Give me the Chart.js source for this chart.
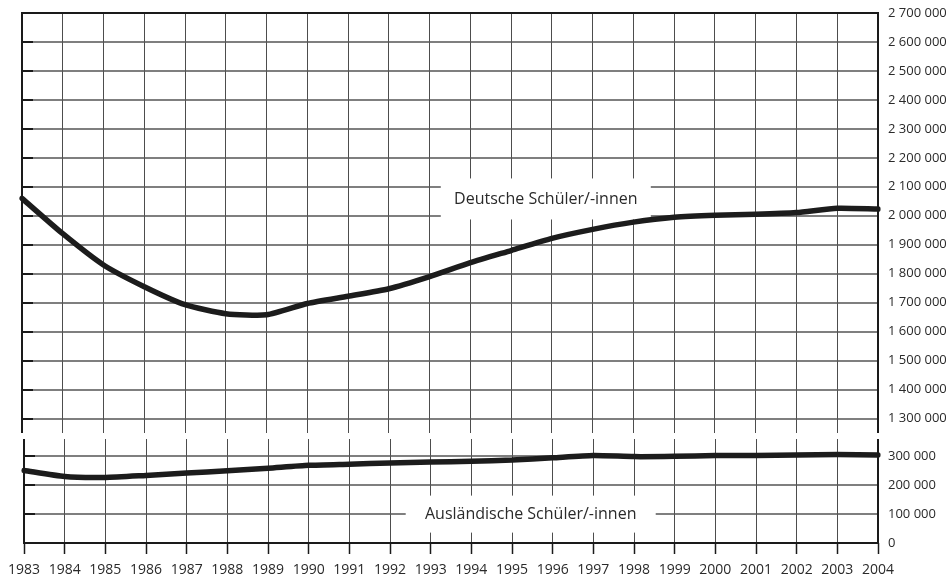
<!DOCTYPE html>
<html>
<head>
<meta charset="utf-8">
<script src="https://cdn.jsdelivr.net/npm/chart.js@4"></script>
<style>
  body { margin: 0; background: #fff; }
  canvas { position: absolute; left: 0; }
  #oben { top: 0; }
  #unten { top: 431px; }
</style>
</head>
<body>
<canvas id="oben" width="952" height="441"></canvas>
<canvas id="unten" width="952" height="156"></canvas>
<script>
// Werte
var years = ['1983', '1984', '1985', '1986', '1987', '1988', '1989', '1990', '1991', '1992', '1993',
             '1994', '1995', '1996', '1997', '1998', '1999', '2000', '2001', '2002', '2003', '2004'];
var deutsche = [2060000, 1938000, 1830000, 1755000, 1693000, 1662000, 1658000, 1697000, 1722000, 1748000, 1790000,
                1838000, 1880000, 1922000, 1953000, 1978000, 1995000, 2002000, 2005000, 2011000, 2026000, 2023000];
var auslaender = [251000, 230000, 227000, 234000, 242000, 250000, 259000, 269000, 273000, 277000, 280000,
                  283000, 287000, 295000, 303000, 299000, 300000, 303000, 303000, 305000, 306000, 305000];
var ticksOben = [1300000, 1400000, 1500000, 1600000, 1700000, 1800000, 1900000, 2000000,
                 2100000, 2200000, 2300000, 2400000, 2500000, 2600000, 2700000];
var ticksUnten = [0, 100000, 200000, 300000];

function fmt(v) {
    return String(v).replace(/\B(?=(\d{3})+(?!\d))/g, ' ');
}

var gridColor = '#4d4d4d';
var textColor = '#2a2a2a';
var schrift = '"Open Sans", "Noto Sans", sans-serif';

// waagrechte Gitterlinien, weisser Kasten mit Beschriftung, Rahmen
var rahmen = {
    id: 'rahmen',
    beforeDatasetsDraw: function (chart, args, opts) {
        var ctx = chart.ctx;
        var a = chart.chartArea;
        var y = chart.scales.y;
        ctx.save();
        ctx.strokeStyle = '#555';
        ctx.lineWidth = 1.4;
        ctx.beginPath();
        opts.ticks.forEach(function (v) {
            var py = Math.round(y.getPixelForValue(v));
            ctx.moveTo(a.left, py);
            ctx.lineTo(a.right, py);
        });
        ctx.stroke();

        var l = opts.label;
        var cx = chart.scales.x.getPixelForValue(l.at);
        var cy = y.getPixelForValue(l.value);
        ctx.fillStyle = '#fff';
        ctx.fillRect(cx - l.w / 2, cy - l.h / 2, l.w, l.h);
        ctx.font = '16px ' + schrift;
        ctx.fillStyle = textColor;
        ctx.textAlign = 'center';
        ctx.textBaseline = 'middle';
        ctx.fillText(l.text, cx, cy);
        ctx.restore();
    },
    afterDraw: function (chart, args, opts) {
        var a = chart.chartArea;
        var ctx = chart.ctx;
        var y = chart.scales.y;
        ctx.save();
        ctx.strokeStyle = '#1a1a1a';
        ctx.lineWidth = 2;
        ctx.beginPath();
        if (opts.oben) {
            ctx.moveTo(a.left, a.bottom);
            ctx.lineTo(a.left, a.top);
            ctx.lineTo(a.right, a.top);
            ctx.lineTo(a.right, a.bottom);
        } else {
            ctx.moveTo(a.left, a.top);
            ctx.lineTo(a.left, a.bottom);
            ctx.lineTo(a.right, a.bottom);
            ctx.lineTo(a.right, a.top);
        }
        ctx.stroke();
        // kurze Striche an der linken Achse
        ctx.beginPath();
        opts.ticks.forEach(function (v) {
            var py = Math.round(y.getPixelForValue(v));
            ctx.moveTo(a.left, py);
            ctx.lineTo(a.left + 11, py);
        });
        ctx.stroke();
        ctx.restore();
    }
};

function makeChart(id, werte, tickList, min, max, oben, label) {
    var ctx = document.getElementById(id).getContext('2d');
    return new Chart(ctx, {
        type: 'line',
        data: {
            labels: years,
            datasets: [{
                data: werte,
                borderColor: '#1c1c1c',
                borderWidth: 5.5,
                pointRadius: 0,
                tension: 0.2,
                borderCapStyle: 'round',
                borderJoinStyle: 'round',
                fill: false
            }]
        },
        options: {
            responsive: false,
            animation: false,
            layout: { padding: { top: oben ? 13 : 8, bottom: oben ? 8 : 0, left: 22, right: 0 } },
            plugins: {
                legend: { display: false },
                tooltip: { enabled: false },
                rahmen: { oben: oben, label: label, ticks: tickList }
            },
            scales: {
                x: {
                    border: { display: false },
                    grid: {
                        color: gridColor,
                        lineWidth: 1,
                        drawTicks: !oben,
                        tickLength: 11,
                        tickColor: '#1a1a1a',
                        tickWidth: 1.5
                    },
                    ticks: {
                        display: !oben,
                        autoSkip: false,
                        maxRotation: 0,
                        padding: 8,
                        color: textColor,
                        font: { family: schrift, size: 14 }
                    },
                    afterFit: function (s) { s.height = oben ? 0 : 44; }
                },
                y: {
                    position: 'right',
                    min: min,
                    max: max,
                    border: { display: false },
                    // Abstand der Zahlen ueber tickLength, nicht ueber padding
                    grid: { display: false, drawTicks: true, tickLength: 10 },
                    ticks: {
                        autoSkip: false,
                        padding: 0,
                        color: textColor,
                        font: { family: schrift, size: 13 },
                        callback: function (v) { return fmt(v); }
                    },
                    afterBuildTicks: function (s) {
                        s.ticks = tickList.map(function (v) { return { value: v }; });
                    },
                    afterFit: function (s) { s.width = 74; }
                }
            }
        },
        plugins: [rahmen]
    });
}

makeChart('oben', deutsche, ticksOben, 1250000, 2700000, true,
    { text: 'Deutsche Schüler/-innen', at: 12.85, value: 2058000, w: 210, h: 41 });
makeChart('unten', auslaender, ticksUnten, 0, 360000, false,
    { text: 'Ausländische Schüler/-innen', at: 12.46, value: 100000, w: 250, h: 37 });
</script>
</body>
</html>
